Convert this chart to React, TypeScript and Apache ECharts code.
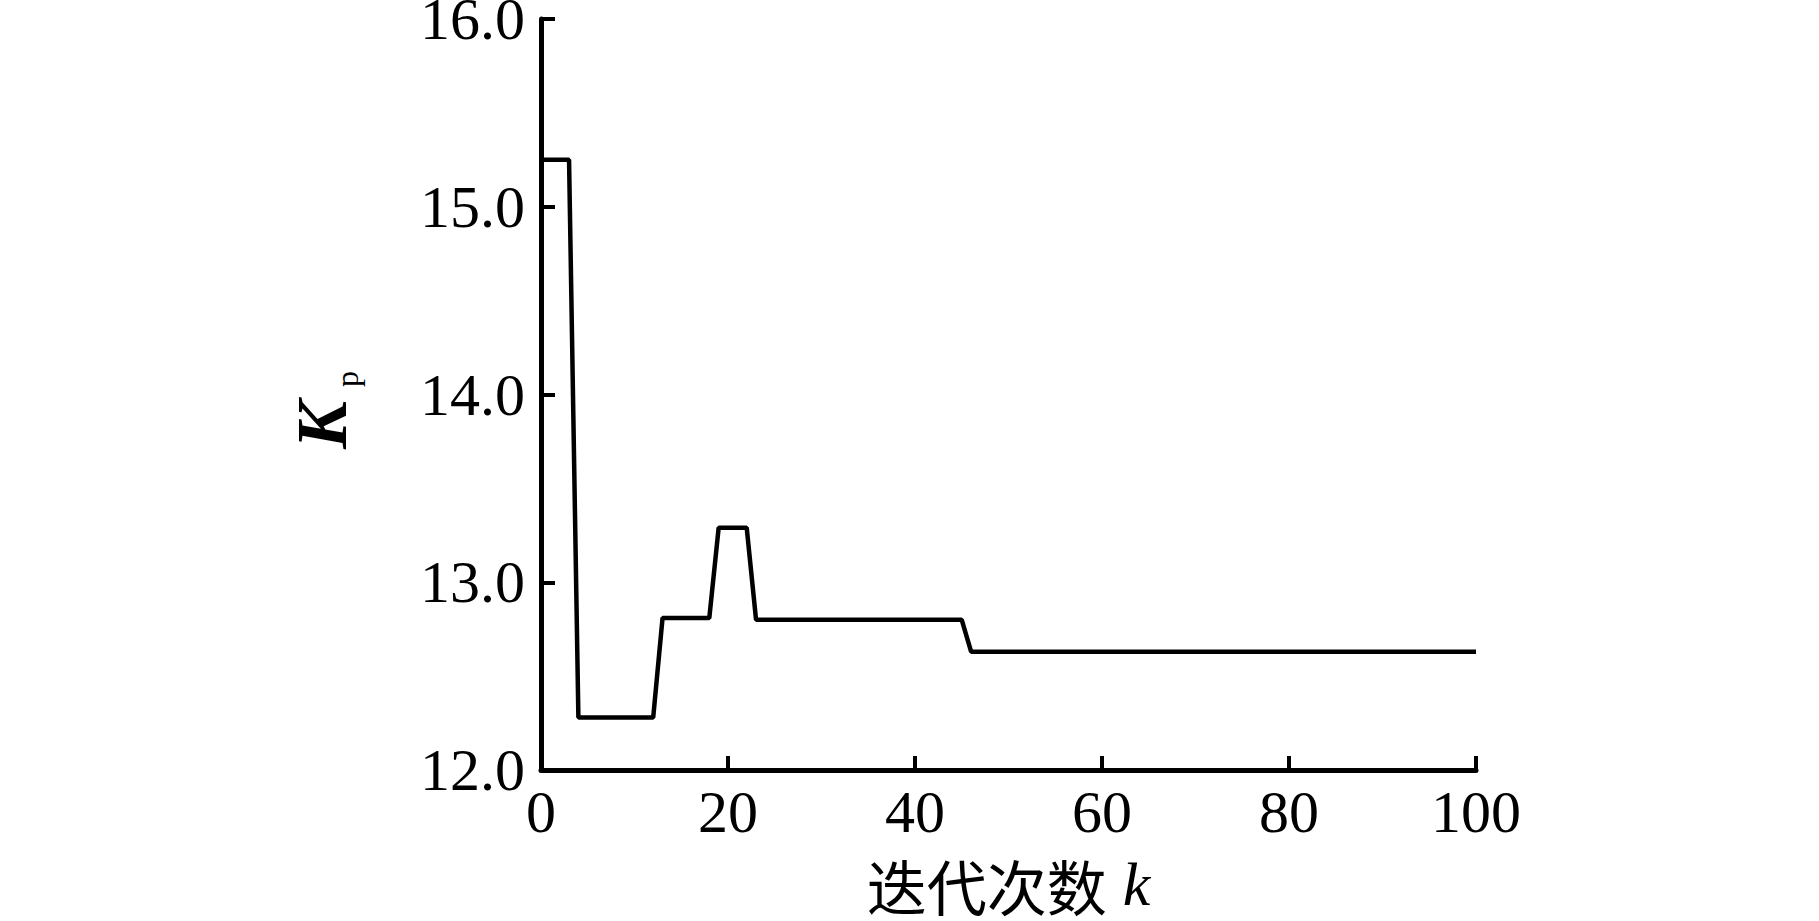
import React, { useEffect, useRef } from "react";
import * as echarts from "echarts";

// Breakpoints of the K_p curve (iteration k, value)
const iterK: number[] = [0, 3, 4, 12, 13, 18, 19, 22, 23, 45, 46, 100];
const kpValues: number[] = [15.25, 15.25, 12.28, 12.28, 12.81, 12.81, 13.29, 13.29, 12.8, 12.8, 12.63, 12.63];
const xTicks = { min: 0, max: 100, interval: 20 };
const yTicks = { min: 12, max: 16, interval: 1 };
const xName = "迭代次数";
const xVar = "k";
const yVar = "K";
const ySub = "p";

export default function App() {
  const ref = useRef<HTMLDivElement>(null);
  useEffect(() => {
    if (!ref.current) return;
    const chart = echarts.init(ref.current, null, { renderer: "svg" });
    const serif = "'Liberation Serif', 'Times New Roman', serif";
    const axisLabelStyle = {
      color: "#000",
      fontFamily: serif,
      fontSize: 60,
    };
    chart.setOption({
      animation: false,
      backgroundColor: "#fff",
      grid: {
        left: 541,
        right: 343,
        top: 19,
        bottom: 151,
        containLabel: false,
        outerBoundsMode: "none",
      },
      xAxis: {
        type: "value",
        min: xTicks.min,
        max: xTicks.max,
        interval: xTicks.interval,
        splitLine: { show: false },
        axisLine: { show: true, lineStyle: { color: "#000", width: 5 } },
        axisTick: { show: true, inside: true, length: 14, lineStyle: { color: "#000", width: 4 } },
        axisLabel: { ...axisLabelStyle, margin: 12 },
        name: `{c|${xName}}{k|${xVar}}`,
        nameLocation: "middle",
        nameGap: 85,
        nameTextStyle: {
          lineHeight: 58,
          rich: {
            c: { fontFamily: "'Noto Sans CJK SC', sans-serif", fontSize: 60, lineHeight: 58, color: "#000" },
            k: { fontFamily: serif, fontStyle: "italic", fontSize: 62, lineHeight: 58, color: "#000", padding: [0, 0, 0, 16] },
          },
        },
      },
      yAxis: {
        type: "value",
        min: yTicks.min,
        max: yTicks.max,
        interval: yTicks.interval,
        splitLine: { show: false },
        axisLine: { show: true, lineStyle: { color: "#000", width: 5 } },
        axisTick: { show: true, inside: true, length: 14, lineStyle: { color: "#000", width: 4 } },
        axisLabel: {
          ...axisLabelStyle,
          margin: 16,
          formatter: (v: number) => v.toFixed(1),
        },
      },
      graphic: [
        {
          type: "text",
          x: 322,
          y: 410,
          rotation: Math.PI / 2,
          style: {
            text: `{K|${yVar}}{p|${ySub}}`,
            align: "center",
            verticalAlign: "middle",
            fill: "#000",
            rich: {
              K: { fontFamily: serif, fontStyle: "italic", fontWeight: "bold", fontSize: 72, fill: "#000", lineHeight: 70 },
              p: { fontFamily: serif, fontSize: 32, fill: "#000", lineHeight: 70, verticalAlign: "bottom", padding: [0, 0, -6, 14] },
            },
          },
        },
      ],
      series: [
        {
          type: "line",
          data: iterK.map((k, i) => [k, kpValues[i]]),
          symbol: "none",
          lineStyle: { color: "#000", width: 4.5 },
        },
      ],
    });
    return () => chart.dispose();
  }, []);
  return (
    <div
      ref={ref}
      style={{ position: "fixed", left: 0, top: 0, width: 1819, height: 921, background: "#fff" }}
    />
  );
}
